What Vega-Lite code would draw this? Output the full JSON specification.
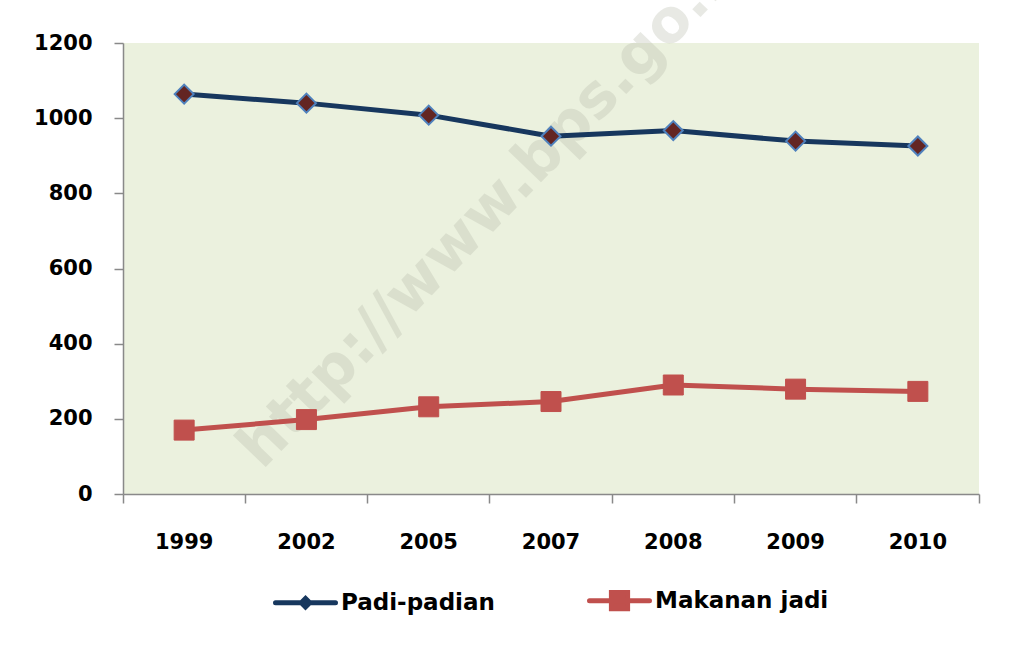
{
  "$schema": "https://vega.github.io/schema/vega-lite/v6.json",
  "width": 856,
  "height": 451,
  "autosize": {"type": "none"},
  "padding": {"left": 123, "top": 43, "right": 48, "bottom": 161},
  "background": "white",
  "config": {
    "view": {"stroke": null, "fill": "#EBF1DE"},
    "font": "DejaVu Sans",
    "axis": {
      "title": null,
      "labelFont": "DejaVu Sans",
      "labelFontSize": 21,
      "labelFontWeight": "bold",
      "labelColor": "#000000",
      "domainColor": "#898989",
      "domainWidth": 1.5,
      "tickColor": "#898989",
      "tickWidth": 1.5,
      "tickSize": 9,
      "grid": false
    }
  },
  "data": {
    "values": [
      {"year": "1999", "series": "Padi-padian", "value": 1064},
      {"year": "2002", "series": "Padi-padian", "value": 1040},
      {"year": "2005", "series": "Padi-padian", "value": 1008},
      {"year": "2007", "series": "Padi-padian", "value": 952},
      {"year": "2008", "series": "Padi-padian", "value": 967},
      {"year": "2009", "series": "Padi-padian", "value": 939},
      {"year": "2010", "series": "Padi-padian", "value": 926},
      {"year": "1999", "series": "Makanan jadi", "value": 170},
      {"year": "2002", "series": "Makanan jadi", "value": 198},
      {"year": "2005", "series": "Makanan jadi", "value": 232},
      {"year": "2007", "series": "Makanan jadi", "value": 246},
      {"year": "2008", "series": "Makanan jadi", "value": 290},
      {"year": "2009", "series": "Makanan jadi", "value": 279},
      {"year": "2010", "series": "Makanan jadi", "value": 273}
    ]
  },
  "layer": [
    {
      "data": {"values": [{"label": "http://www.bps.go.id"}]},
      "mark": {
        "type": "text",
        "font": "DejaVu Sans",
        "fontSize": 60,
        "fontWeight": "bold",
        "angle": -46,
        "align": "center",
        "baseline": "alphabetic",
        "dx": 116,
        "fill": "#b4b8a8",
        "opacity": 0.3
      },
      "encoding": {
        "x": {
          "datum": "2005",
          "type": "ordinal",
          "scale": {"type": "band", "paddingInner": 0, "paddingOuter": 0},
          "axis": {"labelAngle": 0, "labelPadding": 28, "bandPosition": 1, "tickExtra": true}
        },
        "y": {
          "datum": 520,
          "type": "quantitative",
          "scale": {"domain": [0, 1200], "nice": false},
          "axis": {"values": [0, 200, 400, 600, 800, 1000, 1200], "format": "d", "labelPadding": 22}
        },
        "text": {"field": "label"}
      }
    },
    {
      "mark": {"type": "line", "strokeWidth": 5, "strokeJoin": "round", "strokeCap": "round"},
      "encoding": {
        "x": {
          "field": "year",
          "type": "ordinal",
          "scale": {"type": "band", "paddingInner": 0, "paddingOuter": 0},
          "axis": {"labelAngle": 0, "labelPadding": 28, "bandPosition": 1, "tickExtra": true}
        },
        "y": {
          "field": "value",
          "type": "quantitative",
          "scale": {"domain": [0, 1200], "nice": false},
          "axis": {"values": [0, 200, 400, 600, 800, 1000, 1200], "format": "d", "labelPadding": 22}
        },
        "color": {
          "field": "series",
          "type": "nominal",
          "scale": {"domain": ["Padi-padian", "Makanan jadi"], "range": ["#17375E", "#C0504D"]},
          "legend": {
            "title": null,
            "orient": "none",
            "legendX": 150,
            "legendY": 525,
            "direction": "horizontal",
            "labelFont": "DejaVu Sans",
            "labelFontSize": 23,
            "labelFontWeight": "bold",
            "labelColor": "#000000",
            "labelLimit": 400,
            "labelOffset": 3,
            "columnPadding": 84,
            "symbolSize": 3600,
            "symbolStrokeWidth": 5,
            "encode": {
              "symbols": {
                "update": {
                  "shape": {"signal": "datum.value === 'Padi-padian' ? 'M-1,0H1M0,-0.14L0.14,0L0,0.14L-0.14,0Z' : 'M-1,0H1M-0.27,-0.27H0.27V0.27H-0.27Z'"},
                  "fill": {"signal": "datum.value === 'Padi-padian' ? '#632523' : '#C0504D'"},
                  "stroke": {"signal": "datum.value === 'Padi-padian' ? '#17375E' : '#C0504D'"},
                  "strokeWidth": {"value": 5},
                  "strokeCap": {"value": "round"},
                  "opacity": {"value": 1}
                }
              }
            }
          }
        }
      }
    },
    {
      "transform": [{"filter": "datum.series === 'Padi-padian'"}],
      "mark": {"type": "point", "shape": "diamond", "filled": true, "fill": "#632523", "stroke": "#4F81BD", "strokeWidth": 2, "size": 361, "opacity": 1},
      "encoding": {
        "x": {"field": "year", "type": "ordinal"},
        "y": {"field": "value", "type": "quantitative"}
      }
    },
    {
      "transform": [{"filter": "datum.series === 'Makanan jadi'"}],
      "mark": {"type": "point", "shape": "square", "filled": true, "fill": "#C0504D", "stroke": "#C0504D", "strokeWidth": 1, "size": 400, "opacity": 1},
      "encoding": {
        "x": {"field": "year", "type": "ordinal"},
        "y": {"field": "value", "type": "quantitative"}
      }
    }
  ]
}
